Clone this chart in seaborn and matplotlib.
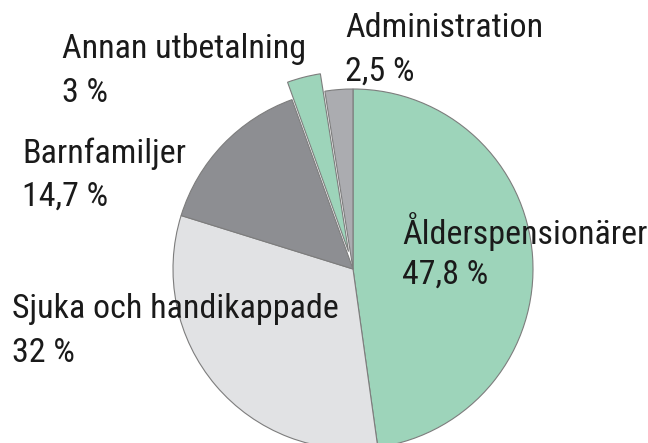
import matplotlib
matplotlib.use("Agg")
import matplotlib.pyplot as plt
import seaborn as sns

# | Data |---------------------------------------------------------------------|
categories = ["Ålderspensionärer", "Sjuka och handikappade", "Barnfamiljer",
              "Annan utbetalning", "Administration"]
shares = [47.8, 32.0, 14.7, 3.0, 2.5]
share_labels = ["47,8 %", "32 %", "14,7 %", "3 %", "2,5 %"]
colors = ["#9dd4ba", "#e1e2e4", "#8d8e92", "#9dd4ba", "#abacb0"]
explode = [0, 0, 0, 0.1, 0]

sns.set_theme(style="white")
plt.rcParams["font.family"] = ["Roboto Condensed", "Archivo Narrow", "DejaVu Sans"]

W, H = 648, 443
fig = plt.figure(figsize=(W / 100, H / 100), dpi=100)
ax = fig.add_axes([0, 0, 1, 1])

ax.pie(shares, colors=colors, explode=explode, startangle=90, counterclock=False,
       wedgeprops=dict(edgecolor="#7d7d7d", linewidth=0.8))

# pie radius = 180 px, centre at (353, 269) px
R, cx, cy = 180.0, 353.0, 269.0
ax.set_xlim(-cx / R, (W - cx) / R)
ax.set_ylim(-(H - cy) / R, cy / R)
ax.axis("off")

# label positions in pixels: (left x, baseline of name, baseline of share)
label_pos = [(402, 244, 284), (12, 318, 362), (22, 163, 206),
             (62, 58, 102), (345, 37, 81)]
for name, share, (x, y1, y2) in zip(categories, share_labels, label_pos):
    fig.text(x / W, 1 - y1 / H, name, fontsize=24.5, color="#1a1a1a",
             ha="left", va="baseline")
    fig.text(x / W, 1 - y2 / H, share, fontsize=24.5, color="#1a1a1a",
             ha="left", va="baseline")

fig.savefig("out.png", dpi=100)
